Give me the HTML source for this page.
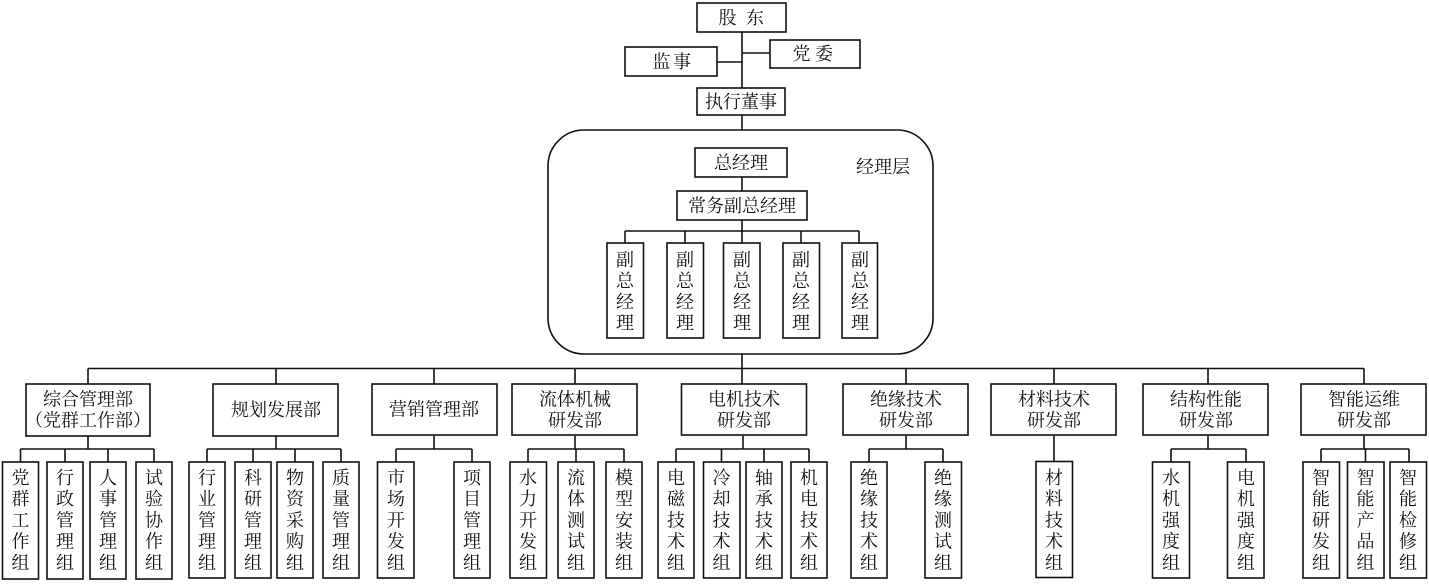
<!DOCTYPE html>
<html><head><meta charset="utf-8"><style>
html,body{margin:0;padding:0;background:#fff;}
svg{display:block;}
text{font-family:"Liberation Serif","Noto Serif CJK SC",serif;font-size:18px;fill:#111;text-anchor:middle;dominant-baseline:central;}
.b{fill:#fff;stroke:#111;stroke-width:1.6;}
.l{stroke:#111;stroke-width:1.6;fill:none;}
</style></head><body>
<svg width="1429" height="584" viewBox="0 0 1429 584" xmlns="http://www.w3.org/2000/svg">
<!-- top trunk -->
<line class="l" x1="742" y1="32" x2="742" y2="130"/>
<line class="l" x1="717" y1="62" x2="742" y2="62"/>
<line class="l" x1="742" y1="53" x2="770" y2="53"/>
<rect class="b" x="697" y="3" width="89" height="29"/>
<text x="727.5" y="18">股</text><text x="755" y="18">东</text>
<rect class="b" x="625" y="47" width="92" height="29"/>
<text x="661.5" y="62">监</text><text x="682" y="62">事</text>
<rect class="b" x="770" y="40" width="90" height="28"/>
<text x="801.5" y="54">党</text><text x="824" y="54">委</text>
<rect class="b" x="697" y="88" width="88" height="27"/>
<text x="741" y="102">执行董事</text>

<!-- manager layer -->
<rect class="b" x="548" y="130" width="385" height="224" rx="36" ry="36"/>
<line class="l" x1="742" y1="177" x2="742" y2="243"/>
<line class="l" x1="625" y1="231" x2="859" y2="231"/>
<line class="l" x1="625" y1="231" x2="625" y2="243"/>
<line class="l" x1="685" y1="231" x2="685" y2="243"/>
<line class="l" x1="801" y1="231" x2="801" y2="243"/>
<line class="l" x1="859" y1="231" x2="859" y2="243"/>
<rect class="b" x="695" y="148" width="92" height="29"/>
<text x="741" y="163">总经理</text>
<text x="883" y="167">经理层</text>
<rect class="b" x="677" y="191" width="130" height="29"/>
<text x="742" y="206">常务副总经理</text>
<g>
<rect class="b" x="607" y="243" width="36.5" height="95"/>
<text x="625" y="260">副</text><text x="625" y="281">总</text><text x="625" y="302">经</text><text x="625" y="323">理</text>
<rect class="b" x="667" y="243" width="36.5" height="95"/>
<text x="685" y="260">副</text><text x="685" y="281">总</text><text x="685" y="302">经</text><text x="685" y="323">理</text>
<rect class="b" x="723.5" y="243" width="36.5" height="95"/>
<text x="742" y="260">副</text><text x="742" y="281">总</text><text x="742" y="302">经</text><text x="742" y="323">理</text>
<rect class="b" x="783" y="243" width="36.5" height="95"/>
<text x="801" y="260">副</text><text x="801" y="281">总</text><text x="801" y="302">经</text><text x="801" y="323">理</text>
<rect class="b" x="842" y="243" width="35.5" height="95"/>
<text x="860" y="260">副</text><text x="860" y="281">总</text><text x="860" y="302">经</text><text x="860" y="323">理</text>
</g>

<!-- main bus -->
<line class="l" x1="742" y1="354" x2="742" y2="384"/>
<line class="l" x1="88" y1="368.5" x2="1364" y2="368.5"/>
<line class="l" x1="88" y1="368.5" x2="88" y2="384"/>
<line class="l" x1="276" y1="368.5" x2="276" y2="384"/>
<line class="l" x1="434" y1="368.5" x2="434" y2="384"/>
<line class="l" x1="575" y1="368.5" x2="575" y2="384"/>
<line class="l" x1="906" y1="368.5" x2="906" y2="384"/>
<line class="l" x1="1054" y1="368.5" x2="1054" y2="384"/>
<line class="l" x1="1208" y1="368.5" x2="1208" y2="384"/>
<line class="l" x1="1364" y1="368.5" x2="1364" y2="384"/>

<!-- dept -> sub connectors -->
<line class="l" x1="88" y1="436" x2="88" y2="449"/>
<line class="l" x1="20.5" y1="449" x2="154" y2="449"/>
<line class="l" x1="20.5" y1="449" x2="20.5" y2="462"/><line class="l" x1="65" y1="449" x2="65" y2="462"/><line class="l" x1="108" y1="449" x2="108" y2="462"/><line class="l" x1="154" y1="449" x2="154" y2="462"/>
<line class="l" x1="276" y1="436" x2="276" y2="449"/>
<line class="l" x1="207" y1="449" x2="341" y2="449"/>
<line class="l" x1="207" y1="449" x2="207" y2="462"/><line class="l" x1="253" y1="449" x2="253" y2="462"/><line class="l" x1="295" y1="449" x2="295" y2="462"/><line class="l" x1="341" y1="449" x2="341" y2="462"/>
<line class="l" x1="434" y1="436" x2="434" y2="449"/>
<line class="l" x1="396" y1="449" x2="472" y2="449"/>
<line class="l" x1="396" y1="449" x2="396" y2="462"/><line class="l" x1="472" y1="449" x2="472" y2="462"/>
<line class="l" x1="575" y1="436" x2="575" y2="449"/>
<line class="l" x1="528" y1="449" x2="624" y2="449"/>
<line class="l" x1="528" y1="449" x2="528" y2="462"/><line class="l" x1="576" y1="449" x2="576" y2="462"/><line class="l" x1="624" y1="449" x2="624" y2="462"/>
<line class="l" x1="743" y1="436" x2="743" y2="449"/>
<line class="l" x1="676" y1="449" x2="809" y2="449"/>
<line class="l" x1="676" y1="449" x2="676" y2="462"/><line class="l" x1="721.5" y1="449" x2="721.5" y2="462"/><line class="l" x1="764" y1="449" x2="764" y2="462"/><line class="l" x1="809" y1="449" x2="809" y2="462"/>
<line class="l" x1="906" y1="436" x2="906" y2="449"/>
<line class="l" x1="869" y1="449" x2="943" y2="449"/>
<line class="l" x1="869" y1="449" x2="869" y2="462"/><line class="l" x1="943" y1="449" x2="943" y2="462"/>
<line class="l" x1="1054" y1="436" x2="1054" y2="462"/>
<line class="l" x1="1208" y1="436" x2="1208" y2="449"/>
<line class="l" x1="1171" y1="449" x2="1246" y2="449"/>
<line class="l" x1="1171" y1="449" x2="1171" y2="462"/><line class="l" x1="1246" y1="449" x2="1246" y2="462"/>
<line class="l" x1="1364" y1="436" x2="1364" y2="449"/>
<line class="l" x1="1321" y1="449" x2="1409" y2="449"/>
<line class="l" x1="1321" y1="449" x2="1321" y2="462"/><line class="l" x1="1365.5" y1="449" x2="1365.5" y2="462"/><line class="l" x1="1409" y1="449" x2="1409" y2="462"/>

<!-- departments -->
<rect class="b" x="26" y="384" width="124" height="52"/>
<text x="88" y="399.5">综合管理部</text><text x="88" y="420.5">（党群工作部）</text>
<rect class="b" x="213" y="384" width="125" height="52"/>
<text x="276" y="410">规划发展部</text>
<rect class="b" x="372" y="384" width="125" height="51"/>
<text x="434" y="409.5">营销管理部</text>
<rect class="b" x="512" y="384" width="125" height="51"/>
<text x="575" y="399.5">流体机械</text><text x="575" y="420.5">研发部</text>
<rect class="b" x="681.5" y="384" width="125" height="51"/>
<text x="744" y="399.5">电机技术</text><text x="744" y="420.5">研发部</text>
<rect class="b" x="843" y="384" width="125" height="51"/>
<text x="906" y="399.5">绝缘技术</text><text x="906" y="420.5">研发部</text>
<rect class="b" x="991" y="384" width="125" height="51"/>
<text x="1054" y="399.5">材料技术</text><text x="1054" y="420.5">研发部</text>
<rect class="b" x="1143" y="384" width="125" height="51"/>
<text x="1206" y="399.5">结构性能</text><text x="1206" y="420.5">研发部</text>
<rect class="b" x="1301" y="384" width="125" height="51"/>
<text x="1364" y="399.5">智能运维</text><text x="1364" y="420.5">研发部</text>

<!-- sub groups -->
<g>
<rect class="b" x="2.5" y="462" width="36" height="117"/>
<text x="20.5" y="478">党</text><text x="20.5" y="499">群</text><text x="20.5" y="520.5">工</text><text x="20.5" y="541.5">作</text><text x="20.5" y="563">组</text>
<rect class="b" x="47" y="462" width="36" height="117"/>
<text x="65" y="478">行</text><text x="65" y="499">政</text><text x="65" y="520.5">管</text><text x="65" y="541.5">理</text><text x="65" y="563">组</text>
<rect class="b" x="90" y="462" width="36" height="117"/>
<text x="108" y="478">人</text><text x="108" y="499">事</text><text x="108" y="520.5">管</text><text x="108" y="541.5">理</text><text x="108" y="563">组</text>
<rect class="b" x="136" y="462" width="36" height="117"/>
<text x="154" y="478">试</text><text x="154" y="499">验</text><text x="154" y="520.5">协</text><text x="154" y="541.5">作</text><text x="154" y="563">组</text>

<rect class="b" x="189" y="462" width="36" height="116"/>
<text x="207" y="478">行</text><text x="207" y="499">业</text><text x="207" y="520.5">管</text><text x="207" y="541.5">理</text><text x="207" y="563">组</text>
<rect class="b" x="235" y="462" width="36" height="116"/>
<text x="253" y="478">科</text><text x="253" y="499">研</text><text x="253" y="520.5">管</text><text x="253" y="541.5">理</text><text x="253" y="563">组</text>
<rect class="b" x="277" y="462" width="36" height="116"/>
<text x="295" y="478">物</text><text x="295" y="499">资</text><text x="295" y="520.5">采</text><text x="295" y="541.5">购</text><text x="295" y="563">组</text>
<rect class="b" x="323" y="462" width="36" height="116"/>
<text x="341" y="478">质</text><text x="341" y="499">量</text><text x="341" y="520.5">管</text><text x="341" y="541.5">理</text><text x="341" y="563">组</text>

<rect class="b" x="377.5" y="462" width="36.5" height="116"/>
<text x="396" y="478">市</text><text x="396" y="499">场</text><text x="396" y="520.5">开</text><text x="396" y="541.5">发</text><text x="396" y="563">组</text>
<rect class="b" x="454" y="462" width="36" height="116"/>
<text x="472" y="478">项</text><text x="472" y="499">目</text><text x="472" y="520.5">管</text><text x="472" y="541.5">理</text><text x="472" y="563">组</text>

<rect class="b" x="510" y="462" width="36.5" height="116"/>
<text x="528" y="478">水</text><text x="528" y="499">力</text><text x="528" y="520.5">开</text><text x="528" y="541.5">发</text><text x="528" y="563">组</text>
<rect class="b" x="558" y="462" width="36" height="116"/>
<text x="576" y="478">流</text><text x="576" y="499">体</text><text x="576" y="520.5">测</text><text x="576" y="541.5">试</text><text x="576" y="563">组</text>
<rect class="b" x="606" y="462" width="36" height="116"/>
<text x="624" y="478">模</text><text x="624" y="499">型</text><text x="624" y="520.5">安</text><text x="624" y="541.5">装</text><text x="624" y="563">组</text>

<rect class="b" x="658" y="462" width="36" height="116"/>
<text x="676" y="478">电</text><text x="676" y="499">磁</text><text x="676" y="520.5">技</text><text x="676" y="541.5">术</text><text x="676" y="563">组</text>
<rect class="b" x="703.5" y="462" width="36.5" height="116"/>
<text x="721.5" y="478">冷</text><text x="721.5" y="499">却</text><text x="721.5" y="520.5">技</text><text x="721.5" y="541.5">术</text><text x="721.5" y="563">组</text>
<rect class="b" x="746" y="462" width="36" height="116"/>
<text x="764" y="478">轴</text><text x="764" y="499">承</text><text x="764" y="520.5">技</text><text x="764" y="541.5">术</text><text x="764" y="563">组</text>
<rect class="b" x="791" y="462" width="36" height="116"/>
<text x="809" y="478">机</text><text x="809" y="499">电</text><text x="809" y="520.5">技</text><text x="809" y="541.5">术</text><text x="809" y="563">组</text>

<rect class="b" x="851" y="462" width="36" height="116"/>
<text x="869" y="478">绝</text><text x="869" y="499">缘</text><text x="869" y="520.5">技</text><text x="869" y="541.5">术</text><text x="869" y="563">组</text>
<rect class="b" x="925" y="462" width="36.5" height="116"/>
<text x="943" y="478">绝</text><text x="943" y="499">缘</text><text x="943" y="520.5">测</text><text x="943" y="541.5">试</text><text x="943" y="563">组</text>

<rect class="b" x="1036" y="461.5" width="36.5" height="116"/>
<text x="1054" y="478">材</text><text x="1054" y="499">料</text><text x="1054" y="520.5">技</text><text x="1054" y="541.5">术</text><text x="1054" y="563">组</text>

<rect class="b" x="1152.5" y="462" width="37" height="116"/>
<text x="1171" y="478">水</text><text x="1171" y="499">机</text><text x="1171" y="520.5">强</text><text x="1171" y="541.5">度</text><text x="1171" y="563">组</text>
<rect class="b" x="1227.5" y="462" width="36.5" height="116"/>
<text x="1246" y="478">电</text><text x="1246" y="499">机</text><text x="1246" y="520.5">强</text><text x="1246" y="541.5">度</text><text x="1246" y="563">组</text>

<rect class="b" x="1303" y="462" width="36.5" height="116"/>
<text x="1321" y="478">智</text><text x="1321" y="499">能</text><text x="1321" y="520.5">研</text><text x="1321" y="541.5">发</text><text x="1321" y="563">组</text>
<rect class="b" x="1347.5" y="462" width="36.5" height="116"/>
<text x="1365.5" y="478">智</text><text x="1365.5" y="499">能</text><text x="1365.5" y="520.5">产</text><text x="1365.5" y="541.5">品</text><text x="1365.5" y="563">组</text>
<rect class="b" x="1390" y="462" width="36.5" height="116"/>
<text x="1408" y="478">智</text><text x="1408" y="499">能</text><text x="1408" y="520.5">检</text><text x="1408" y="541.5">修</text><text x="1408" y="563">组</text>
</g>
</svg>
</body></html>
